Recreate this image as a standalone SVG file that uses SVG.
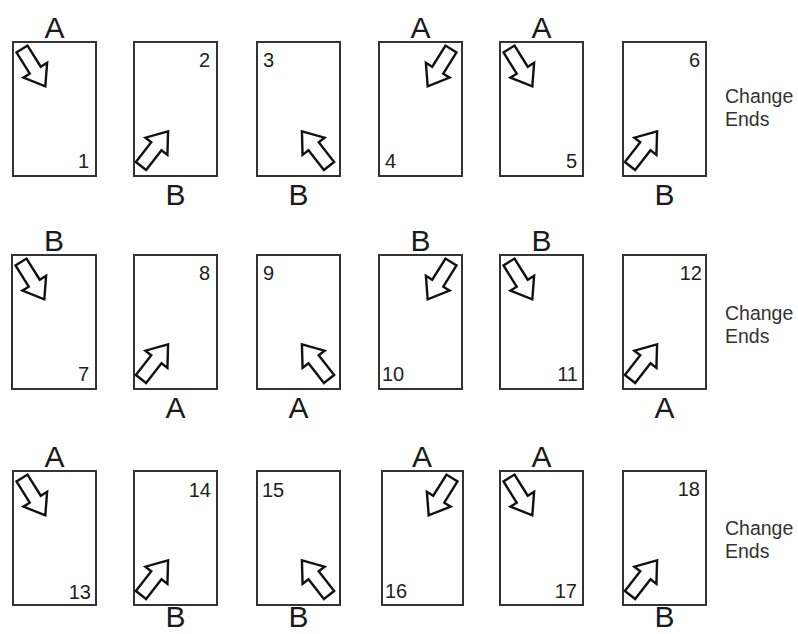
<svg xmlns="http://www.w3.org/2000/svg" xmlns:xlink="http://www.w3.org/1999/xlink" width="798" height="634" viewBox="0 0 798 634">
<style>
.bg{fill:#ffffff}
.box{fill:#ffffff;stroke:#333333;stroke-width:2}
.arr{fill:#ffffff;stroke:#111111;stroke-width:2.4;stroke-linejoin:miter}
.lbl{font-family:"Liberation Sans",Arial,sans-serif;font-size:30px;fill:#1a1a1a;text-anchor:middle}
.num{font-family:"Liberation Sans",Arial,sans-serif;font-size:20px;fill:#222222}
.end{text-anchor:end}
.ce{font-family:"Liberation Sans",Arial,sans-serif;font-size:19.5px;fill:#333333}
</style>
<defs>
<path id="ar" d="M0,-6.5 H25 V-14 L44,0 L25,14 V6.5 H0 Z"/>
</defs>
<rect class="bg" x="0" y="0" width="798" height="634"/>

<!-- Row 1 -->
<g id="n1"><rect class="box" x="13" y="42" width="83" height="134"/><text class="lbl" x="54.5" y="38">A</text><text class="num end" x="89" y="168">1</text><use href="#ar" class="arr" transform="translate(22,49) rotate(58)"/></g>
<g id="n2"><rect class="box" x="134" y="42" width="83" height="134"/><text class="lbl" x="175.5" y="205">B</text><text class="num end" x="210" y="67">2</text><use href="#ar" class="arr" transform="translate(141,166) rotate(-52)"/></g>
<g id="n3"><rect class="box" x="257" y="42" width="83" height="134"/><text class="lbl" x="298.5" y="205">B</text><text class="num" x="263" y="67">3</text><use href="#ar" class="arr" transform="translate(329,166) rotate(-128)"/></g>
<g id="n4"><rect class="box" x="379" y="42" width="83" height="134"/><text class="lbl" x="420.5" y="38">A</text><text class="num" x="385" y="168">4</text><use href="#ar" class="arr" transform="translate(451,49) rotate(122)"/></g>
<g id="n5"><rect class="box" x="500" y="42" width="83" height="134"/><text class="lbl" x="541.5" y="38">A</text><text class="num end" x="577" y="168">5</text><use href="#ar" class="arr" transform="translate(509,49) rotate(58)"/></g>
<g id="n6"><rect class="box" x="623" y="42" width="83" height="134"/><text class="lbl" x="664.5" y="205">B</text><text class="num end" x="700" y="67">6</text><use href="#ar" class="arr" transform="translate(630,166) rotate(-52)"/></g>
<g id="ce1"><text class="ce" x="725" y="103">Change</text><text class="ce" x="725" y="126">Ends</text></g>

<!-- Row 2 -->
<g id="n7"><rect class="box" x="12" y="255" width="84" height="134"/><text class="lbl" x="54" y="251">B</text><text class="num end" x="89" y="381">7</text><use href="#ar" class="arr" transform="translate(21,262) rotate(58)"/></g>
<g id="n8"><rect class="box" x="134" y="255" width="83" height="134"/><text class="lbl" x="175.5" y="418">A</text><text class="num end" x="210" y="280">8</text><use href="#ar" class="arr" transform="translate(141,379) rotate(-52)"/></g>
<g id="n9"><rect class="box" x="257" y="255" width="83" height="134"/><text class="lbl" x="298.5" y="418">A</text><text class="num" x="263" y="280">9</text><use href="#ar" class="arr" transform="translate(329,379) rotate(-128)"/></g>
<g id="n10"><rect class="box" x="379" y="255" width="83" height="134"/><text class="lbl" x="420.5" y="251">B</text><text class="num" x="382" y="381">10</text><use href="#ar" class="arr" transform="translate(451,262) rotate(122)"/></g>
<g id="n11"><rect class="box" x="500" y="255" width="83" height="134"/><text class="lbl" x="541.5" y="251">B</text><text class="num end" x="578" y="381">11</text><use href="#ar" class="arr" transform="translate(509,262) rotate(58)"/></g>
<g id="n12"><rect class="box" x="623" y="255" width="83" height="134"/><text class="lbl" x="664.5" y="418">A</text><text class="num end" x="702" y="280">12</text><use href="#ar" class="arr" transform="translate(630,379) rotate(-52)"/></g>
<g id="ce2"><text class="ce" x="725" y="320">Change</text><text class="ce" x="725" y="343">Ends</text></g>

<!-- Row 3 -->
<g id="n13"><rect class="box" x="13" y="471" width="83" height="134"/><text class="lbl" x="54.5" y="467">A</text><text class="num end" x="91" y="599">13</text><use href="#ar" class="arr" transform="translate(22,478) rotate(58)"/></g>
<g id="n14"><rect class="box" x="134" y="471" width="83" height="134"/><text class="lbl" x="175.5" y="627">B</text><text class="num end" x="211" y="497">14</text><use href="#ar" class="arr" transform="translate(141,595) rotate(-52)"/></g>
<g id="n15"><rect class="box" x="257" y="471" width="83" height="134"/><text class="lbl" x="298.5" y="627">B</text><text class="num" x="262" y="497">15</text><use href="#ar" class="arr" transform="translate(329,595) rotate(-128)"/></g>
<g id="n16"><rect class="box" x="382" y="471" width="81" height="134"/><text class="lbl" x="422" y="467">A</text><text class="num" x="385" y="598">16</text><use href="#ar" class="arr" transform="translate(452,478) rotate(122)"/></g>
<g id="n17"><rect class="box" x="500" y="471" width="83" height="134"/><text class="lbl" x="541.5" y="467">A</text><text class="num end" x="577" y="598">17</text><use href="#ar" class="arr" transform="translate(509,478) rotate(58)"/></g>
<g id="n18"><rect class="box" x="623" y="471" width="83" height="134"/><text class="lbl" x="664.5" y="627">B</text><text class="num end" x="700" y="496">18</text><use href="#ar" class="arr" transform="translate(630,595) rotate(-52)"/></g>
<g id="ce3"><text class="ce" x="725" y="535">Change</text><text class="ce" x="725" y="558">Ends</text></g>
</svg>
